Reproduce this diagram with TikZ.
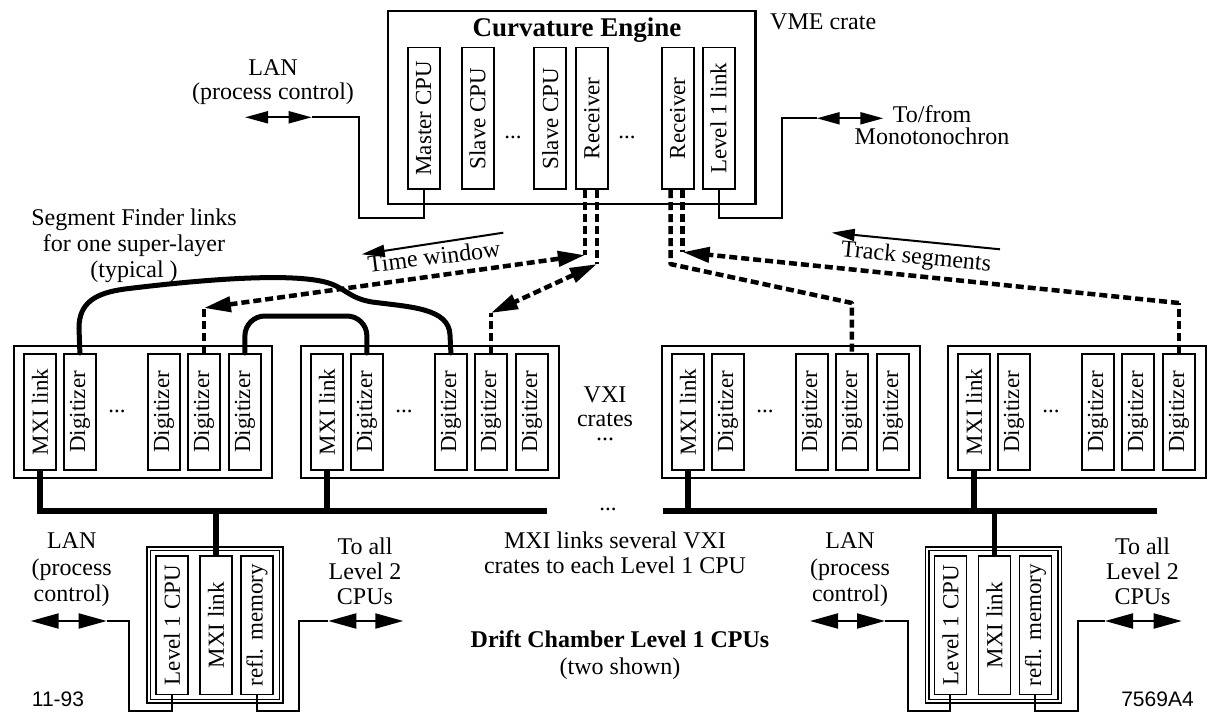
\documentclass[tikz,border=0pt]{standalone}
\usepackage{fontspec}
\setmainfont{Liberation Serif}
\newfontfamily\helvfont{Liberation Sans}
\usetikzlibrary{arrows.meta}
\newcommand\cardfont{\fontsize{23}{25}\selectfont}
\newcommand\lblfont{\fontsize{24}{26}\selectfont}
\begin{document}
\begin{tikzpicture}[x=1pt,y=-1pt,
 crate/.style={draw,line width=2pt,inner sep=0pt,anchor=north west},
 card/.style={draw,line width=1.8pt,inner sep=0pt,minimum width=32pt,anchor=north west,font=\cardfont},
 dotsn/.style={font=\cardfont,inner sep=0pt},
 conn/.style={line width=2pt},
 bus/.style={line width=5.5pt},
 link/.style={line width=5pt,line cap=round},
 dsh/.style={line width=4.5pt,dash pattern=on 8pt off 4pt},
 dbl/.style={line width=2pt,arrows={Triangle[length=28pt,width=15pt]-Triangle[length=28pt,width=15pt]}},
 dblsm/.style={line width=2pt,arrows={Triangle[length=23pt,width=12pt]-Triangle[length=23pt,width=12pt]}},
 dhead/.style={arrows={Triangle[length=27pt,width=15pt]-Triangle[length=27pt,width=15pt]}},
 dtail/.style={arrows={-Triangle[length=27pt,width=15pt]}},
 thinarr/.style={line width=2pt,arrows={-Triangle[length=23pt,width=12pt]}},
 lbl/.style={align=center,inner sep=0pt},
]
\fill[white] (0,0) rectangle (1225,719);
\useasboundingbox (0,0) rectangle (1225,719);

% ---------- VME crate ----------
\node[crate,line width=2.5pt,minimum width=367.3pt,minimum height=193pt] (vme) at (386.7,10) {};
\node[lbl,font=\fontsize{27}{30}\selectfont\bfseries,anchor=base] (title) at (577,36.7) {Curvature Engine};
\node[card,minimum height=141.6pt] (tm) at (406.7,46.7) {\rotatebox{90}{Master CPU}};
\node[card,minimum height=141.6pt] (ts1) at (460.7,46.7) {\rotatebox{90}{Slave CPU}};
\node[dotsn] (tdots1) at (513,137) {...};
\node[card,minimum height=141.6pt] (ts2) at (533.3,46.7) {\rotatebox{90}{Slave CPU}};
\node[card,minimum height=141.6pt] (tr1) at (575,46.7) {\rotatebox{90}{Receiver}};
\node[dotsn] (tdots2) at (627,137) {...};
\node[card,minimum height=141.6pt] (tr2) at (660.7,46.7) {\rotatebox{90}{Receiver}};
\node[card,minimum height=141.6pt] (tl) at (701.7,46.7) {\rotatebox{90}{Level 1 link}};
\node[lbl,font=\lblfont,anchor=west] (vmelbl) at (770,21.7) {VME crate};

% top connectors
\coordinate (lanT-l) at (245,117.3);
\coordinate (lanT-r) at (311.7,117.3);
\coordinate (monT-l) at (816.7,118.3);
\coordinate (monT-r) at (883.3,118.3);
\draw[conn] (tm.south) -- ++(0,27.7) -- ++(-64.4,0) |- (lanT-r);
\draw[dblsm] (lanT-l) -- (lanT-r);
\draw[conn] (tl.south) -- ++(0,27.7) -- ++(63,0) |- (monT-l);
\draw[dblsm] (monT-l) -- (monT-r);
\node[lbl,font=\fontsize{24}{23.5}\selectfont] (lanTl) at (273,82) {LAN\\(process control)};
\node[lbl,font=\fontsize{24}{22.5}\selectfont] (monlbl) at (932,125) {To/from\\Monotonochron};

% ---------- buses ----------
\coordinate (busL-a) at (37,511);
\coordinate (busL-b) at (547,511);
\coordinate (busR-a) at (663,511);
\coordinate (busR-b) at (1157,511);
\draw[bus] (busL-a) -- (busL-b);
\draw[bus] (busR-a) -- (busR-b);
\node[dotsn] (busdots) at (608,509) {...};

% ---------- VXI crates ----------
\foreach \xx/\nn in {13/1,300/2,661/3,947/4}{
  \node[crate,minimum width=258pt,minimum height=132pt] (c\nn) at (\xx,345) {};
  \node[card,minimum height=116pt] (c\nn-m) at (\xx+10,353) {\rotatebox{90}{MXI link}};
  \node[card,minimum height=116pt] (c\nn-a) at (\xx+50,353) {\rotatebox{90}{Digitizer}};
  \node[dotsn] (c\nn-x) at (\xx+104,411) {...};
  \node[card,minimum height=116pt] (c\nn-b) at (\xx+134,353) {\rotatebox{90}{Digitizer}};
  \node[card,minimum height=116pt] (c\nn-c) at (\xx+174,353) {\rotatebox{90}{Digitizer}};
  \node[card,minimum height=116pt] (c\nn-d) at (\xx+215,353) {\rotatebox{90}{Digitizer}};
  \draw[bus] (c\nn-m.south) -- (c\nn-m.south |- busL-a);
}
\node[lbl,font=\fontsize{24}{24}\selectfont] (vxilbl) at (605,414) {VXI\\crates\\[-10pt]...};

% ---------- Level 1 CPU crates ----------
\foreach \xx/\nn in {146/l,924.5/r}{
  \node[crate,line width=1.8pt,minimum width=136pt,minimum height=156pt] (p\nn) at (\xx,546) {};
  \node[crate,line width=1.5pt,minimum width=129pt,minimum height=149pt] (p\nn-in) at (\xx+3.5,549.5) {};
  \node[card,minimum height=138.5pt] (p\nn-cpu) at (\xx+9,555) {\rotatebox{90}{Level 1 CPU}};
  \node[card,minimum height=138.5pt] (p\nn-mxi) at (\xx+53,555) {\rotatebox{90}{MXI link}};
  \node[card,minimum height=138.5pt] (p\nn-mem) at (\xx+94,555) {\rotatebox{90}{refl. memory}};
  \draw[bus] (p\nn-mxi.north) -- (p\nn-mxi.north |- busL-a);
}

% bottom connectors
\coordinate (lanBL-l) at (30.7,621);
\coordinate (lanBL-r) at (106.7,621);
\coordinate (toBL-l) at (328.3,621);
\coordinate (toBL-r) at (403.3,621);
\coordinate (lanBR-l) at (810,621);
\coordinate (lanBR-r) at (885,621);
\coordinate (toBR-l) at (1105,621);
\coordinate (toBR-r) at (1181.7,621);
\draw[conn] (pl-cpu.south) -- ++(0,15.7) -- ++(-42.7,0) |- (lanBL-r);
\draw[conn] (pl-mem.south) -- ++(0,15.7) -- ++(42.3,0) |- (toBL-l);
\draw[conn] (pr-cpu.south) -- ++(0,15.7) -- ++(-42.2,0) |- (lanBR-r);
\draw[conn] (pr-mem.south) -- ++(0,15.7) -- ++(42.8,0) |- (toBR-l);
\draw[dbl] (lanBL-l) -- (lanBL-r);
\draw[dbl] (toBL-l) -- (toBL-r);
\draw[dbl] (lanBR-l) -- (lanBR-r);
\draw[dbl] (toBR-l) -- (toBR-r);

\node[lbl,font=\fontsize{24}{26.5}\selectfont] (lanBLt) at (71.7,570) {LAN\\(process\\control)};
\node[lbl,font=\fontsize{24}{25}\selectfont] (toBLt) at (365,571.5) {To all\\Level 2\\CPUs};
\node[lbl,font=\fontsize{24}{26.5}\selectfont] (lanBRt) at (850,570) {LAN\\(process\\control)};
\node[lbl,font=\fontsize{24}{25}\selectfont] (toBRt) at (1142.5,571.5) {To all\\Level 2\\CPUs};
\node[lbl,font=\fontsize{24}{25}\selectfont] (mxilbl) at (615,552.5) {MXI links several VXI\\crates to each Level 1 CPU};
\node[lbl,font=\fontsize{24}{26.5}\selectfont] (dclbl) at (620,655) {{\bfseries Drift Chamber Level 1 CPUs}\\(two shown)};
\node[lbl,font=\helvfont\fontsize{21}{21}\selectfont] (d1193) at (58,699) {11-93};
\node[lbl,font=\helvfont\fontsize{21}{21}\selectfont] (d7569) at (1157.5,699) {7569A4};

% ---------- Segment finder links ----------
\node[lbl,font=\fontsize{24}{26}\selectfont] (sflbl) at (134,246) {Segment Finder links\\for one super-layer\\(typical )};
\draw[link] (c1-a.north) -- (79,328) .. controls (79,303) and (95,293) .. (125,289)
  .. controls (190,281) and (285,272) .. (325,282)
  .. controls (345,287) and (348,298) .. (372,302)
  .. controls (410,307) and (449,308) .. (450,335) -- (c2-b.north);
\draw[link,rounded corners=20pt] (c1-d.north) -- ++(0,-37) -| (c2-a.north);

% ---------- dashed time window / track segment links ----------
\path (tr1.south) ++(-7,0) coordinate (r1a) ++(12,0) coordinate (r1b);
\path (tr2.south) ++(-7,0) coordinate (r2a) ++(12,0) coordinate (r2b);
\path (r1a) ++(0,65) coordinate (r1a-c);
\path (r1b) ++(0,74) coordinate (r1b-c);
\path (r2b) ++(0,62) coordinate (r2b-c);
\path (r2a) ++(0,74) coordinate (r2a-c);
\path (c1-c.north) ++(0,-45) coordinate (c1c-c);
\path (c2-c.north) ++(0,-40) coordinate (c2c-c);
\path (c3-c.north) ++(0,-50) coordinate (c3c-c);
\path (c4-d.north) ++(0,-50) coordinate (c4d-c);

\draw[dsh] (r1a) -- (r1a-c);
\draw[dsh] (c1-c.north) -- (c1c-c);
\draw[dsh,dhead] (c1c-c) -- (r1a-c);
\draw[dsh] (r1b) -- (r1b-c);
\draw[dsh] (c2-c.north) -- (c2c-c);
\draw[dsh,dhead] (r1b-c) -- (c2c-c);

\draw[dsh] (r2b) -- (r2b-c);
\draw[dsh] (c4-d.north) -- (c4d-c);
\draw[dsh,dtail] (c4d-c) -- (r2b-c);
\draw[dsh,line join=round] (r2a) -- (r2a-c) -- (c3c-c) -- (c3-c.north);

\coordinate (tw-s) at (503.3,232.7);
\coordinate (tw-e) at (361.7,254.3);
\draw[thinarr] (tw-s) -- (tw-e);
\node[lbl,font=\lblfont,rotate=7] (twlbl) at (434,256.5) {Time window};
\coordinate (ts-s) at (1000,249.3);
\coordinate (ts-e) at (831.7,232.7);
\draw[thinarr] (ts-s) -- (ts-e);
\node[lbl,font=\lblfont,rotate=-5.5] (tslbl) at (916,258) {Track segments};
\end{tikzpicture}
\end{document}
